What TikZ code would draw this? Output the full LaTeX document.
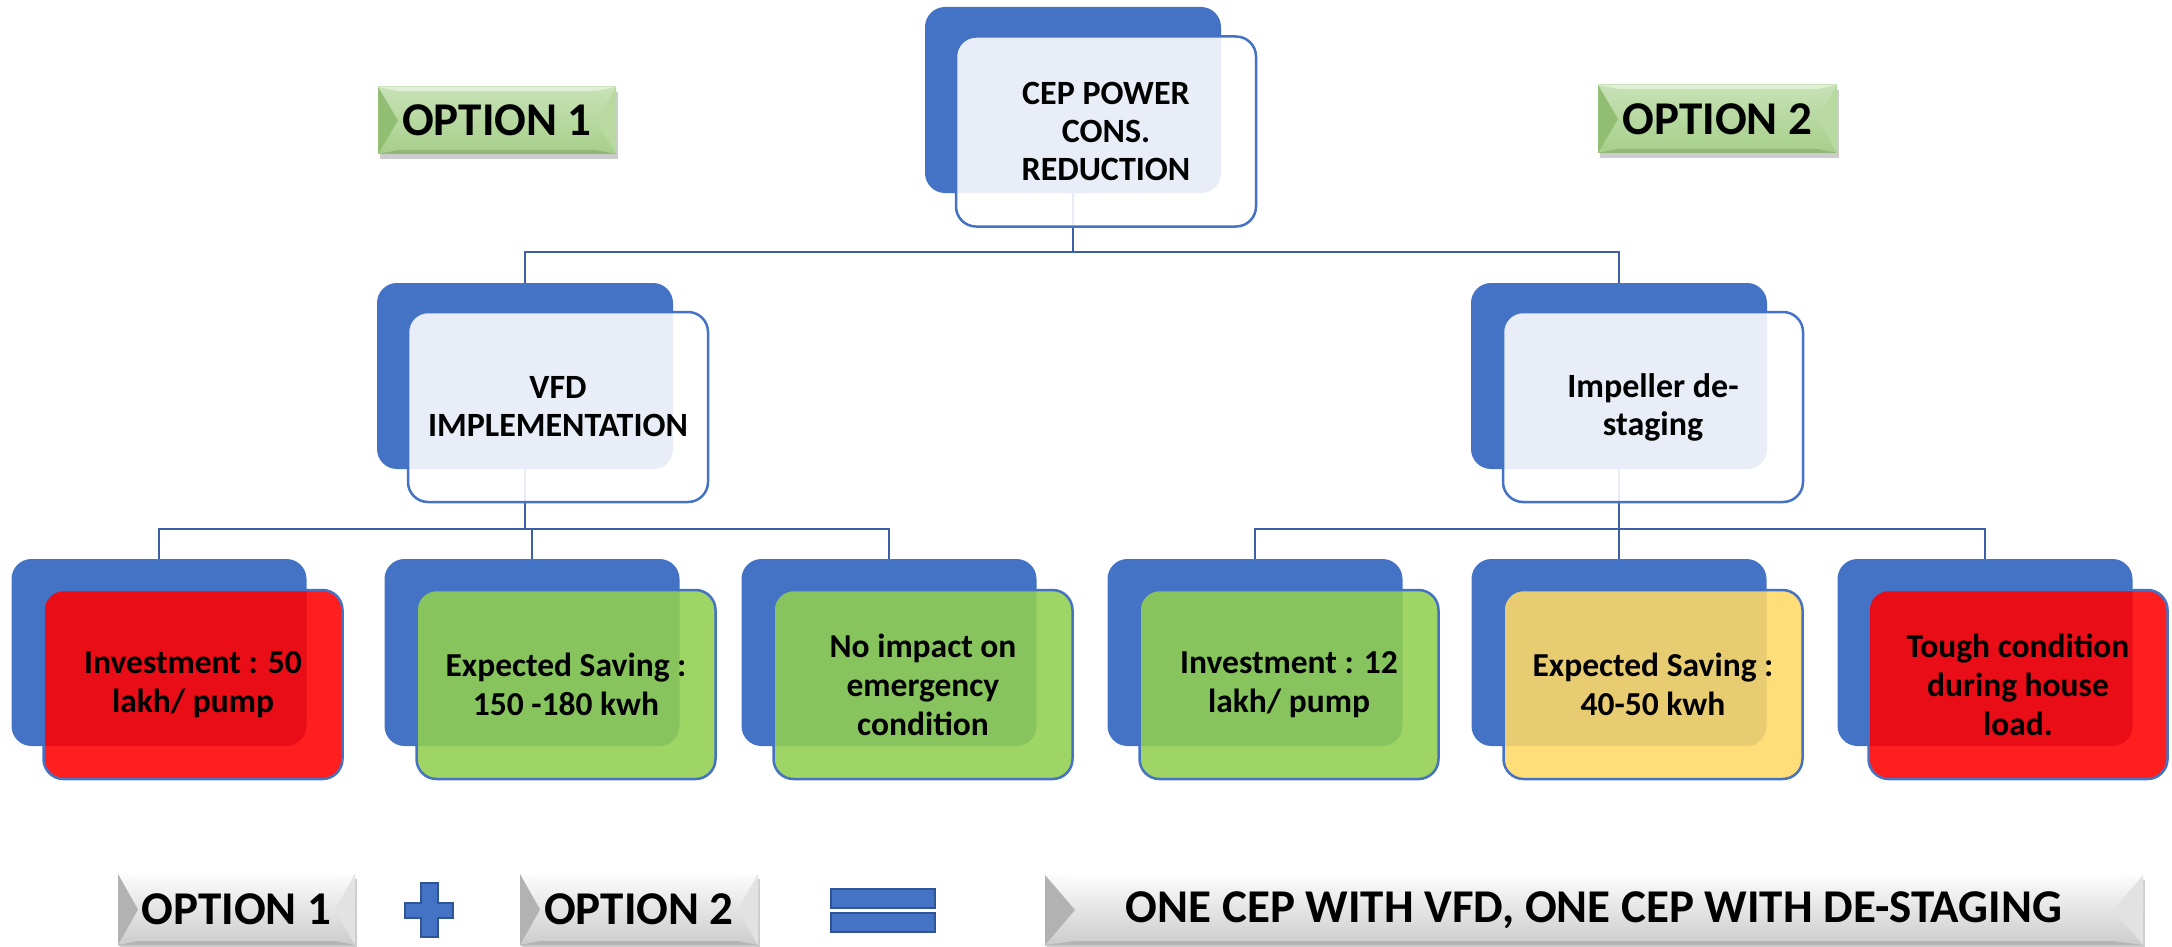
\documentclass[tikz,border=0pt]{standalone}
\usepackage{fontspec}
\setmainfont{Carlito}
\usetikzlibrary{shadows}
\pgfdeclarelayer{bg}
\pgfsetlayers{bg,main}
\definecolor{bblue}{RGB}{68,114,196}
\definecolor{dblue}{RGB}{47,85,151}
\definecolor{cline}{RGB}{60,95,168}
\definecolor{lred}{RGB}{255,0,0}
\definecolor{lgreen}{RGB}{146,208,80}
\definecolor{lyellow}{RGB}{255,217,102}
\definecolor{gtop}{RGB}{200,226,183}
\definecolor{gbot}{RGB}{166,207,137}
\definecolor{gleft}{RGB}{146,190,116}
\definecolor{gright}{RGB}{184,217,160}
\definecolor{stop}{RGB}{252,252,252}
\definecolor{sbot}{RGB}{204,204,204}
\definecolor{sleft}{RGB}{178,178,178}
\definecolor{sright}{RGB}{226,226,226}
\tikzset{
  backbox/.style={fill=bblue, rounded corners=20pt, minimum width=296pt, minimum height=186pt, inner sep=0pt},
  frontbox/.style={draw=bblue, line width=2.5pt, fill=#1, fill opacity=0.88, text opacity=1,
    rounded corners=20pt, minimum width=300pt, minimum height=190pt, inner sep=0pt, align=center,
    font=\bfseries\fontsize{34}{38}\selectfont},
  frontbox/.default=white,
  leafback/.style={backbox, minimum width=295pt, minimum height=187pt},
  leaffront/.style={frontbox=#1, minimum width=299pt, minimum height=189pt,
    font=\bfseries\fontsize{33.5}{39}\selectfont},
  conn/.style={draw=cline, line width=2.5pt},
  bevelbase/.style={inner sep=0pt, align=center, font=\bfseries\fontsize{47}{50}\selectfont,
    drop shadow={shadow xshift=2pt, shadow yshift=-5pt, opacity=0.2, fill=black}},
  greenbevel/.style={bevelbase, top color=gtop, bottom color=gbot,
    path picture={
      \fill[gleft] (path picture bounding box.north west) -- ([xshift=#1]path picture bounding box.west) -- (path picture bounding box.south west) -- cycle;
      \fill[gright] (path picture bounding box.north east) -- ([xshift=-#1]path picture bounding box.east) -- (path picture bounding box.south east) -- cycle;
      \fill[white, opacity=0.45] (path picture bounding box.north west) -- (path picture bounding box.north east) -- ([shift={(-#1,-4pt)}]path picture bounding box.north east) -- ([shift={(#1,-4pt)}]path picture bounding box.north west) -- cycle;
      \fill[black, opacity=0.12] (path picture bounding box.south west) -- (path picture bounding box.south east) -- ([shift={(-#1,4pt)}]path picture bounding box.south east) -- ([shift={(#1,4pt)}]path picture bounding box.south west) -- cycle;
    }},
  greenbevel/.default=20pt,
  graybevel/.style={bevelbase, top color=stop, bottom color=sbot,
    path picture={
      \fill[sleft] (path picture bounding box.north west) -- ([xshift=#1]path picture bounding box.west) -- (path picture bounding box.south west) -- cycle;
      \fill[sright] (path picture bounding box.north east) -- ([xshift=-#1]path picture bounding box.east) -- (path picture bounding box.south east) -- cycle;
      \fill[white, opacity=0.6] (path picture bounding box.north west) -- (path picture bounding box.north east) -- ([shift={(-#1,-4pt)}]path picture bounding box.north east) -- ([shift={(#1,-4pt)}]path picture bounding box.north west) -- cycle;
      \fill[black, opacity=0.12] (path picture bounding box.south west) -- (path picture bounding box.south east) -- ([shift={(-#1,4pt)}]path picture bounding box.south east) -- ([shift={(#1,4pt)}]path picture bounding box.south west) -- cycle;
    }},
  graybevel/.default=20pt,
}
\begin{document}
\begin{tikzpicture}[x=1pt,y=-1pt]
\useasboundingbox (0,0) rectangle (2172,947);

% upper level
\node[backbox] (topB) at (1073,100) {};
\node[frontbox] (topF) at (1106,131.5) {CEP POWER\\CONS.\\REDUCTION};
\node[backbox] (vfdB) at (525,376) {};
\node[frontbox] (vfdF) at (558,407) {VFD\\IMPLEMENTATION};
\node[backbox] (impB) at (1619,376) {};
\node[frontbox] (impF) at (1653,407) {Impeller de-\\staging};

% leaves
\node[leafback] (l1B) at (159,652.5) {};
\node[leaffront=lred] (l1F) at (193,684.5) {Investment : 50\\lakh/ pump};
\node[leafback] (l2B) at (532,652.5) {};
\node[leaffront=lgreen] (l2F) at (566,684.5) {Expected Saving :\\150 -180 kwh};
\node[leafback] (l3B) at (889,652.5) {};
\node[leaffront=lgreen] (l3F) at (923,684.5) {No impact on\\emergency\\condition};
\node[leafback] (l4B) at (1255,652.5) {};
\node[leaffront=lgreen] (l4F) at (1289,684.5) {Investment : 12\\lakh/ pump};
\node[leafback] (l5B) at (1619,652.5) {};
\node[leaffront=lyellow] (l5F) at (1653,684.5) {Expected Saving :\\40-50 kwh};
\node[leafback] (l6B) at (1985,652.5) {};
\node[leaffront=lred] (l6F) at (2018,684.5) {Tough condition\\during house\\load.};

% connectors
\coordinate (j1) at (1073,252);
\coordinate (j2) at (525,529);
\coordinate (j3) at (1619,529);
\begin{pgfonlayer}{bg}
\fill[white] (0,0) rectangle (2172,947);
\draw[conn] (topB.center) -- (j1);
\draw[conn] (vfdB.center) |- (j1) -| (impB.center);
\draw[conn] (vfdB.center) -- (j2);
\draw[conn] (l1B.center) |- (j2) -| (l3B.center);
\draw[conn] (l2B.center) -- (l2B.center |- j2);
\draw[conn] (impB.center) -- (j3);
\draw[conn] (l4B.center) |- (j3) -| (l6B.center);
\draw[conn] (l5B.center) -- (l5B.center |- j3);
\end{pgfonlayer}

% option labels
\node[greenbevel, minimum width=238pt, minimum height=67pt] (opt1T) at (497,120.5) {OPTION 1};
\node[greenbevel, minimum width=239pt, minimum height=68pt] (opt2T) at (1717.5,119) {OPTION 2};

% bottom equation
\node[graybevel, minimum width=237pt, minimum height=71pt] (opt1B) at (236.5,909.5) {OPTION 1};
\node[graybevel, minimum width=238pt, minimum height=71pt] (opt2B) at (639,909.5) {OPTION 2};
\node[graybevel=30pt, minimum width=1098pt, minimum height=70pt] (res) at (1594,910) {ONE CEP WITH VFD, ONE CEP WITH DE-STAGING};

\filldraw[fill=bblue, draw=dblue, line width=1.5pt]
  (421,883) -- (438,883) -- (438,903) -- (453,903) -- (453,918) -- (438,918) -- (438,937)
  -- (421,937) -- (421,918) -- (405,918) -- (405,903) -- (421,903) -- cycle;
\filldraw[fill=bblue, draw=dblue, line width=1.5pt] (831,889) rectangle (935,908);
\filldraw[fill=bblue, draw=dblue, line width=1.5pt] (831,913) rectangle (935,932);
\end{tikzpicture}
\end{document}
